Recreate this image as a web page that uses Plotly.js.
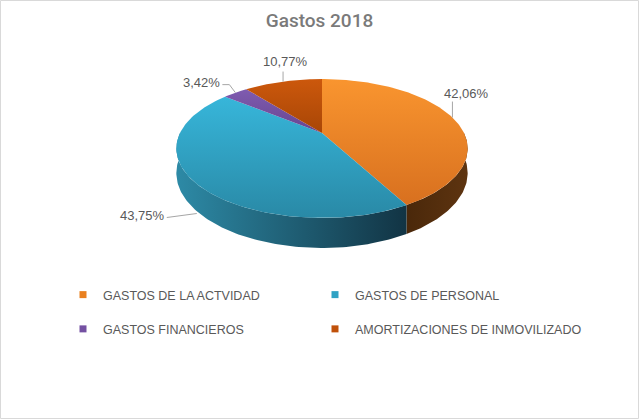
<!DOCTYPE html>
<html>
<head>
<meta charset="utf-8">
<script src="https://cdn.plot.ly/plotly-3.0.1.min.js"></script>
<style>
  html, body { margin: 0; padding: 0; background: #fff; }
  #chart { width: 639px; height: 419px; }
</style>
</head>
<body>
<div id="chart"></div>
<script>
// data (percent of total)
var categories = ['GASTOS DE LA ACTVIDAD', 'GASTOS DE PERSONAL', 'GASTOS FINANCIEROS', 'AMORTIZACIONES DE INMOVILIZADO'];
var values = [42.06, 43.75, 3.42, 10.77];

// colours per slice: top face light/dark, side wall light/dark, legend swatch
var topColors = [['#f9952f', '#d8701f'], ['#37b6da', '#2989a6'], ['#7f5bb0', '#674590'], ['#cc580c', '#a84606']];
var sideColors = [['#4a280a', '#5e3410'], ['#2d8aa6', '#123444'], ['#4a3268', '#3a2752'], ['#6b2c04', '#5a2503']];
var swatch = ['#e9801f', '#2fa2c4', '#7451a2', '#c0510a'];

// label placement relative to each slice's rim anchor (pixels)
var labelOffset = [[14, -24], [-52, 6], [-34, -10], [2, -20]];
var leaderPts = [[[0, 0], [0, -16]], [[2, 4], [-28, 8]], [[0, 0], [-6, -8], [-13, -8]], [[0, 0], [0, -10]]];
var anchorDepth = [0, 1, 0, 0];

// fake 3d pie: perspective view of a flat cylinder
var cx = 322, cy = 133, R = 142, H = 66, k = 0.223, D = 23.3;
function proj(deg, z) {
  var t = deg * Math.PI / 180, u = Math.sin(t), v = Math.cos(t), s = 1 / (1 + k * v);
  return [cx + R * u * s, cy - H * v * s + z * D * s];
}
function arc(a, b, z) {
  var pts = [], n = Math.max(2, Math.ceil(Math.abs(b - a)));
  for (var i = 0; i <= n; i++) pts.push(proj(a + (b - a) * i / n, z));
  return pts;
}

var sides = [], tops = [], leaders = [], annotations = [];
var start = 0;
values.forEach(function(val, i) {
  var a = start, b = start + val * 3.6;
  start = b;

  // side wall (only front half is visible)
  var lo = Math.max(a, 90), hi = Math.min(b, 270);
  if (lo < hi) {
    var sp = arc(lo, hi, 0).concat(arc(hi, lo, 1));
    sides.push({
      type: 'scatter', mode: 'lines', fill: 'toself',
      x: sp.map(function(p) { return p[0]; }), y: sp.map(function(p) { return p[1]; }),
      line: {width: 0},
      fillgradient: {type: 'horizontal', colorscale: [[0, sideColors[i][0]], [1, sideColors[i][1]]]},
      hoverinfo: 'skip', showlegend: false
    });
  }

  // top face (y axis is reversed, so the scale runs dark -> light)
  var tp = [[cx, cy]].concat(arc(a, b, 0));
  tp.push([cx, cy]);
  tops.push({
    type: 'scatter', mode: 'lines', fill: 'toself',
    x: tp.map(function(p) { return p[0]; }), y: tp.map(function(p) { return p[1]; }),
    line: {width: 0},
    fillgradient: {type: 'vertical', colorscale: [[0, topColors[i][1]], [1, topColors[i][0]]]},
    name: categories[i], hoverinfo: 'skip', showlegend: false
  });

  // data label + leader line
  var anc = proj((a + b) / 2, anchorDepth[i]);
  var lp = leaderPts[i];
  leaders.push({
    type: 'scatter', mode: 'lines',
    x: lp.map(function(o) { return anc[0] + o[0]; }),
    y: lp.map(function(o) { return anc[1] + o[1]; }),
    line: {color: '#a6a6a6', width: 1},
    hoverinfo: 'skip', showlegend: false
  });
  annotations.push({
    xref: 'x', yref: 'y', x: anc[0] + labelOffset[i][0], y: anc[1] + labelOffset[i][1],
    text: val.toFixed(2).replace('.', ',') + '%', showarrow: false,
    font: {family: 'Liberation Sans, Arial, sans-serif', size: 13, color: '#595959'}
  });
});

// legend entries: two vertical legends, one per column
var legendItems = categories.map(function(c, i) {
  return {
    type: 'scatter', mode: 'markers', x: [null], y: [null], name: c,
    marker: {symbol: 'square', size: 7, color: swatch[i]},
    legend: i % 2 === 0 ? 'legend' : 'legend2', legendgroup: 'g' + i, showlegend: true
  };
});

var legendBase = {
  orientation: 'v', xanchor: 'left', yanchor: 'top', y: 1 - 280 / 419,
  tracegroupgap: 15, bgcolor: 'rgba(0,0,0,0)',
  font: {family: 'Liberation Sans, Arial, sans-serif', size: 12.5, color: '#595959'}
};

var layout = {
  width: 639, height: 419, autosize: false,
  margin: {l: 0, r: 0, t: 0, b: 0},
  paper_bgcolor: '#fff', plot_bgcolor: '#fff',
  title: {text: 'Gastos 2018', x: 0.5, xanchor: 'center', y: 1 - 20 / 419, yanchor: 'middle',
    font: {family: 'Roboto, Liberation Sans, sans-serif', size: 19, weight: 500, color: '#7a7a7a'}},
  xaxis: {range: [0, 639], visible: false, fixedrange: true},
  yaxis: {range: [419, 0], visible: false, fixedrange: true},
  legend: Object.assign({}, legendBase, {x: 63 / 639}),
  legend2: Object.assign({}, legendBase, {x: 315 / 639}),
  annotations: annotations,
  shapes: [{type: 'rect', xref: 'x', yref: 'y', x0: 0.5, y0: 0.5, x1: 638.5, y1: 418.5,
    line: {color: '#d9d9d9', width: 1}}],
  showlegend: true
};

Plotly.newPlot('chart', sides.concat(tops, leaders, legendItems), layout, {displayModeBar: false, staticPlot: true});
</script>
</body>
</html>
